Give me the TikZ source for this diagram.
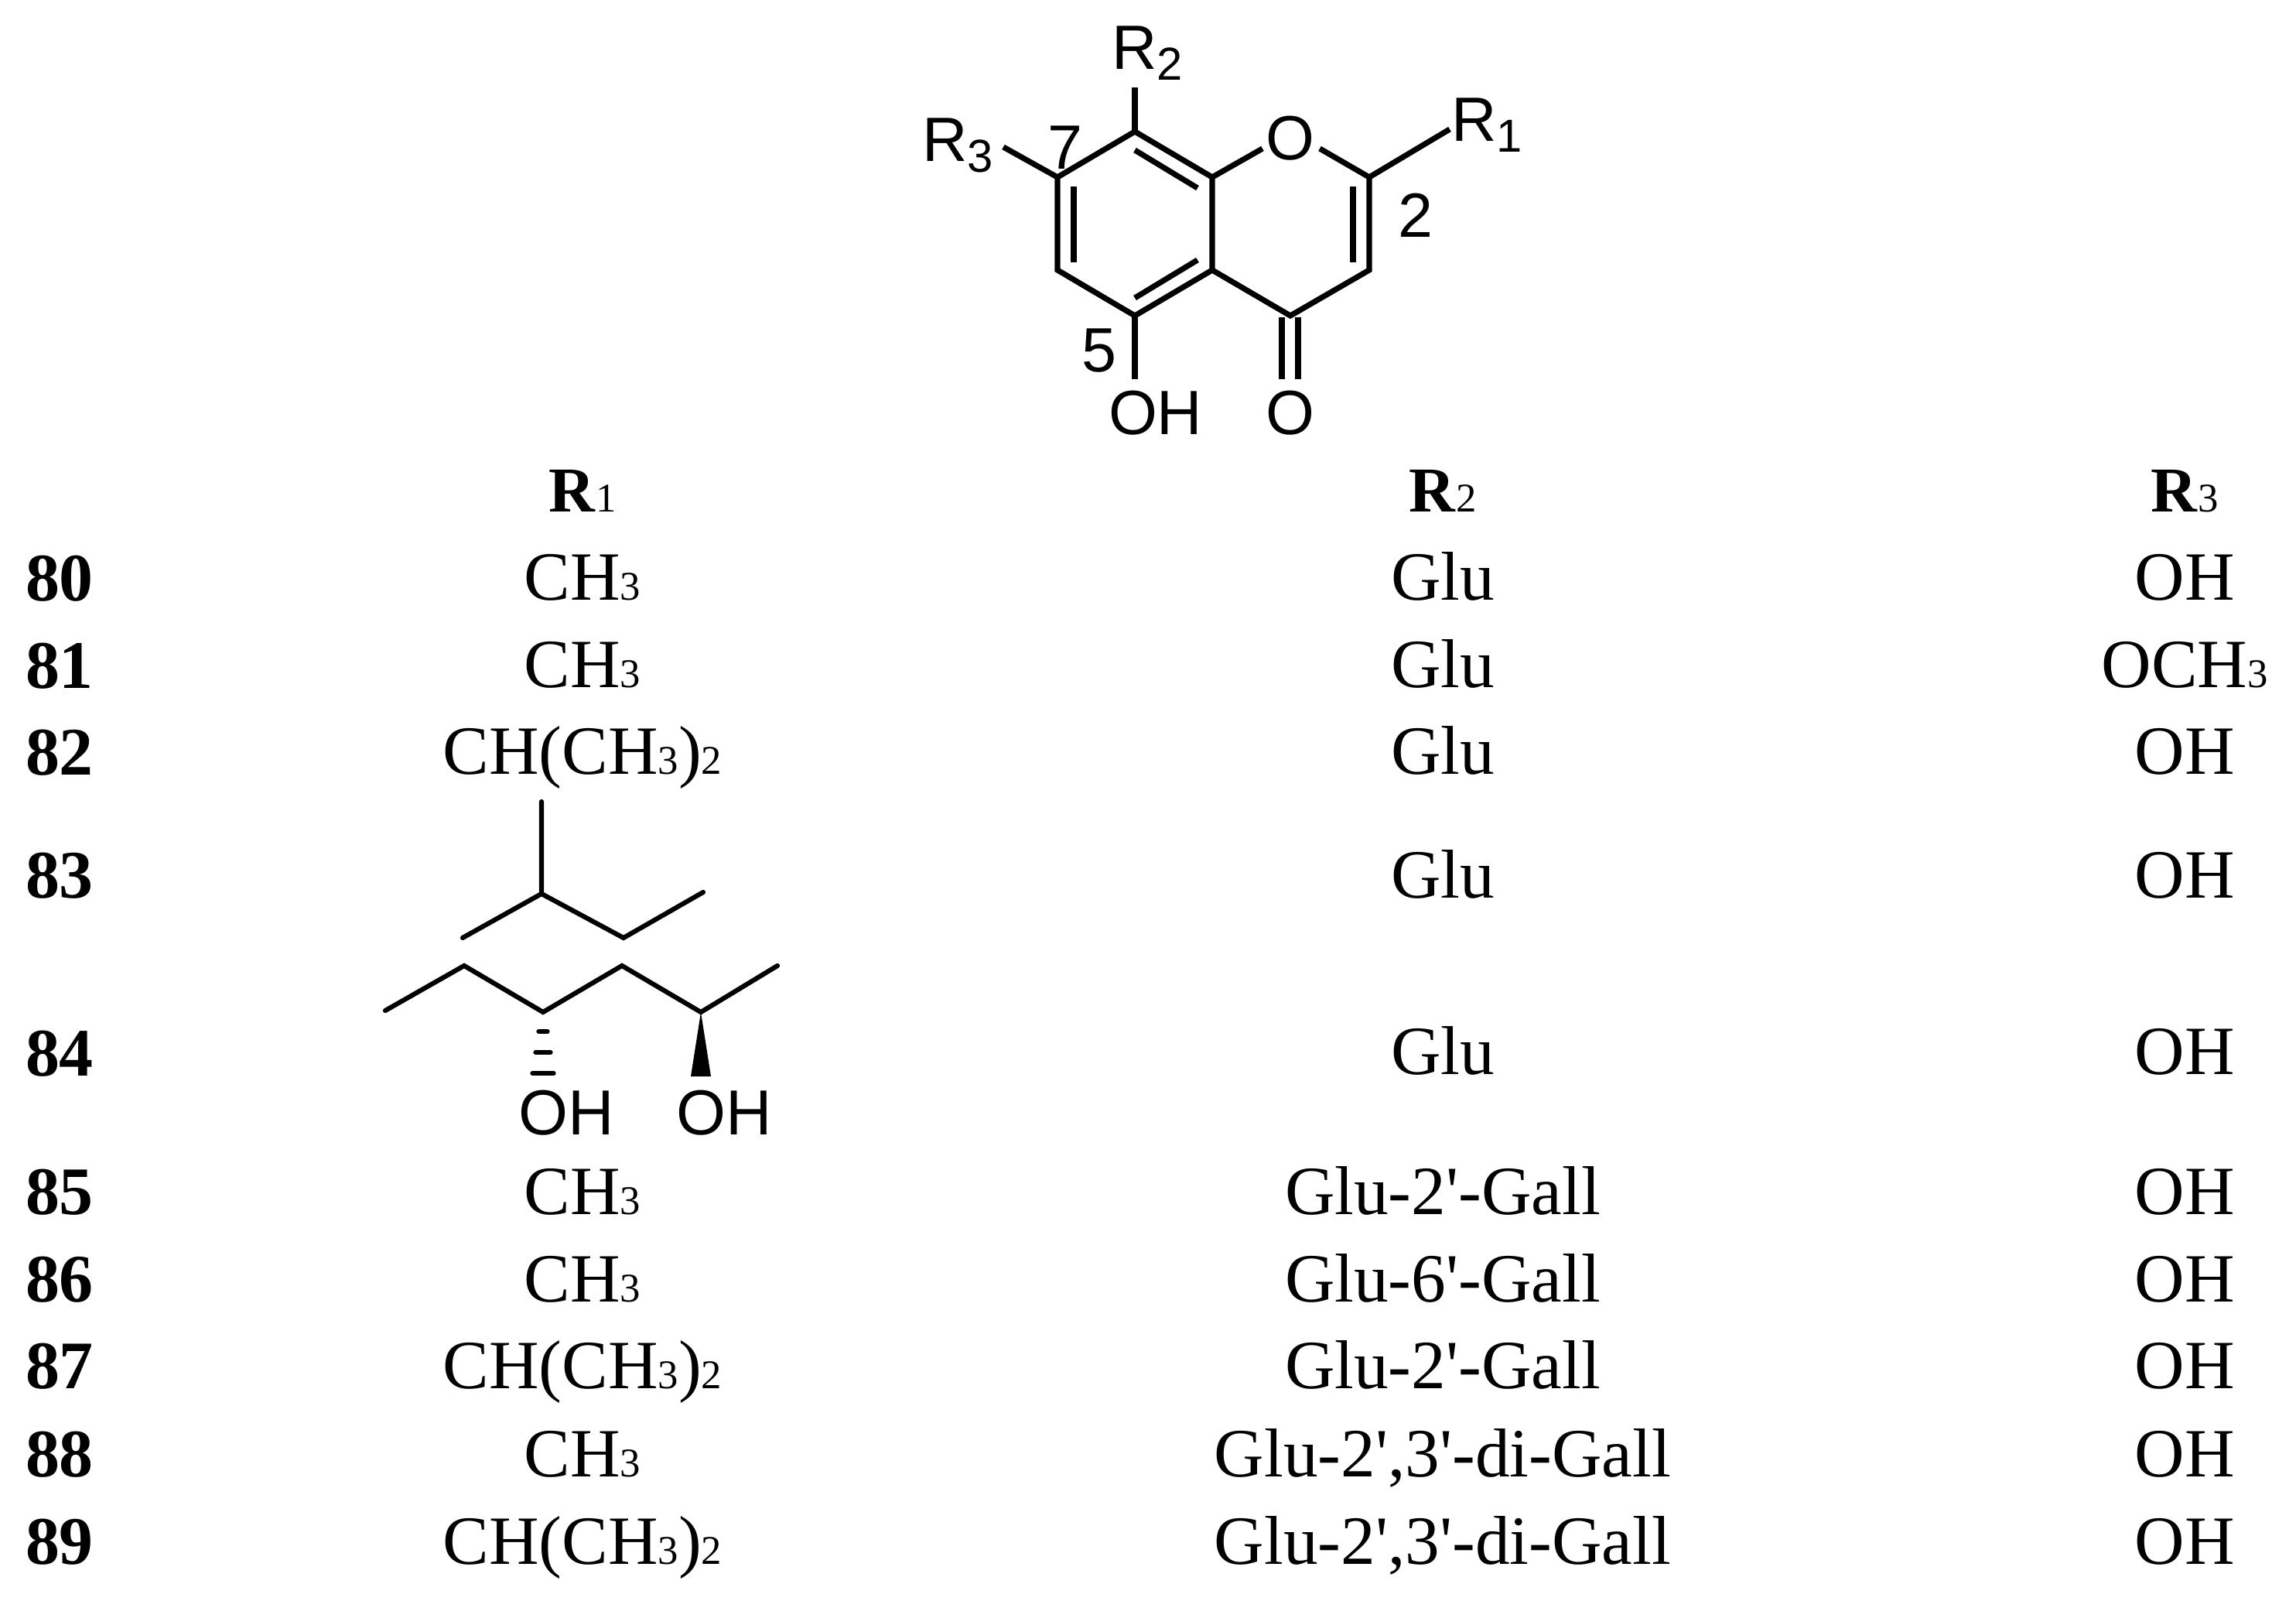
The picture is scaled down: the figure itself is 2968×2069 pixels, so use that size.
\documentclass[tikz,border=0pt]{standalone}
\usepackage{fontspec}
\setmainfont{Liberation Serif}
\newfontfamily\tabfont{Liberation Serif}
\newfontfamily\chemfont{Liberation Sans}
\newlength\pxu
\setlength\pxu{0.28453pt}
\newcommand\chemsub[1]{\raisebox{-14\pxu}{\fontsize{17pt}{18pt}\selectfont #1}}
\newcommand\tsub[1]{{\fontsize{15pt}{16pt}\selectfont\mdseries #1}}
\tikzset{
  bond/.style={line width=2.05pt,line cap=butt,line join=miter,black},
  thinbond/.style={line width=1.75pt,line cap=round,line join=miter,black},
  chem/.style={inner sep=0pt,outer sep=0pt,anchor=base west,font=\chemfont\fontsize{23pt}{25pt}\selectfont},
  chemsm/.style={inner sep=0pt,outer sep=0pt,anchor=base west,font=\chemfont\fontsize{23.4pt}{25pt}\selectfont},
  cell/.style={inner sep=0pt,outer sep=0pt,anchor=base,font=\tabfont\fontsize{25.4pt}{28pt}\selectfont},
  numcell/.style={inner sep=0pt,outer sep=0pt,anchor=base west,font=\tabfont\bfseries\fontsize{25pt}{28pt}\selectfont},
  hdrcell/.style={inner sep=0pt,outer sep=0pt,anchor=base,font=\tabfont\fontsize{23.5pt}{28pt}\selectfont},
  hash/.style={line width=1.5pt,line cap=round,black}
}
\begin{document}
\begin{tikzpicture}[x=0.01cm,y=-0.01cm]
\useasboundingbox (0,0) rectangle (2968,2069);
% core atoms
\coordinate (c8) at (1467,170);
\coordinate (c7) at (1367,229);
\coordinate (c6) at (1367,349);
\coordinate (c5) at (1467,408);
\coordinate (c4a) at (1567,349);
\coordinate (c8a) at (1567,229);
\coordinate (c2) at (1770,229);
\coordinate (c3) at (1770,349);
\coordinate (c4) at (1668,408);
\coordinate (oa) at (1632,192);
\coordinate (ob) at (1706,192);
\coordinate (r1e) at (1874,167);
\coordinate (r2e) at (1467,113);
\coordinate (r3e) at (1297,190);
\coordinate (ohe) at (1467,490);
\coordinate (co1s) at (1657,410);
\coordinate (co1e) at (1657,490);
\coordinate (co2s) at (1678,410);
\coordinate (co2e) at (1678,490);
\coordinate (i1a) at (1388,241);
\coordinate (i1b) at (1388,339);
\coordinate (i2a) at (1467,194);
\coordinate (i2b) at (1548,243);
\coordinate (i3a) at (1467,385);
\coordinate (i3b) at (1548,336);
\coordinate (i4a) at (1749,241);
\coordinate (i4b) at (1749,339);
\draw[bond] (c8) -- (c7) -- (c6) -- (c5) -- (c4a) -- (c8a) -- cycle;
\draw[bond] (c4a) -- (c4) -- (c3) -- (c2) -- (ob);
\draw[bond] (c8a) -- (oa);
\draw[bond] (c2) -- (r1e);
\draw[bond] (c8) -- (r2e);
\draw[bond] (c7) -- (r3e);
\draw[bond] (c5) -- (ohe);
\draw[bond] (co1s) -- (co1e);
\draw[bond] (co2s) -- (co2e);
\draw[bond] (i1a) -- (i1b);
\draw[bond] (i2a) -- (i2b);
\draw[bond] (i3a) -- (i3b);
\draw[bond] (i4a) -- (i4b);
% core labels
\node[chem] (lr2) at (1437,89) {R\chemsub{2}};
\node[chem] (lr1) at (1876,182) {R\chemsub{1}};
\node[chem] (lr3) at (1192,208) {R\chemsub{3}};
\node[chem] (l7) at (1354,218) {7};
\node[chem] (l2) at (1807,306) {2};
\node[chem] (l5) at (1398,480) {5};
\node[chem] (lringo) at (1636,206) {O};
\node[chem] (loh) at (1433,561) {OH};
\node[chem] (lco) at (1636,561) {O};
% table header
\node[hdrcell] (h1) at (753,661) {\textbf{R}\tsub{1}};
\node[hdrcell] (h2) at (1865,661) {\textbf{R}\tsub{2}};
\node[hdrcell] (h3) at (2824,661) {\textbf{R}\tsub{3}};
% row numbers
\node[numcell] (n80) at (33,776) {80};
\node[numcell] (n81) at (33,889) {81};
\node[numcell] (n82) at (33,1001) {82};
\node[numcell] (n83) at (33,1160) {83};
\node[numcell] (n84) at (33,1390) {84};
\node[numcell] (n85) at (33,1569) {85};
\node[numcell] (n86) at (33,1682) {86};
\node[numcell] (n87) at (33,1794) {87};
\node[numcell] (n88) at (33,1908) {88};
\node[numcell] (n89) at (33,2021) {89};
% R1
\node[cell] (a80) at (753,775) {CH\tsub{3}};
\node[cell] (a81) at (753,888) {CH\tsub{3}};
\node[cell] (a82) at (753,1000) {CH(CH\tsub{3})\tsub{2}};
\node[cell] (a85) at (753,1569) {CH\tsub{3}};
\node[cell] (a86) at (753,1682) {CH\tsub{3}};
\node[cell] (a87) at (753,1794) {CH(CH\tsub{3})\tsub{2}};
\node[cell] (a88) at (753,1908) {CH\tsub{3}};
\node[cell] (a89) at (753,2021) {CH(CH\tsub{3})\tsub{2}};
% R2
\node[cell] (b80) at (1865,775) {Glu};
\node[cell] (b81) at (1865,888) {Glu};
\node[cell] (b82) at (1865,1000) {Glu};
\node[cell] (b83) at (1865,1160) {Glu};
\node[cell] (b84) at (1865,1388) {Glu};
\node[cell] (b85) at (1865,1569) {Glu-2'-Gall};
\node[cell] (b86) at (1865,1682) {Glu-6'-Gall};
\node[cell] (b87) at (1865,1794) {Glu-2'-Gall};
\node[cell] (b88) at (1865,1908) {Glu-2',3'-di-Gall};
\node[cell] (b89) at (1865,2021) {Glu-2',3'-di-Gall};
% R3
\node[cell] (c80) at (2824,775) {OH};
\node[cell] (c81) at (2824,888) {OCH\tsub{3}};
\node[cell] (c82) at (2824,1000) {OH};
\node[cell] (c83) at (2824,1160) {OH};
\node[cell] (c84) at (2824,1388) {OH};
\node[cell] (c85) at (2824,1569) {OH};
\node[cell] (c86) at (2824,1682) {OH};
\node[cell] (c87) at (2824,1794) {OH};
\node[cell] (c88) at (2824,1908) {OH};
\node[cell] (c89) at (2824,2021) {OH};
% side chain 83
\coordinate (s1) at (700,1036);
\coordinate (s2) at (700,1155);
\coordinate (s3) at (598,1212);
\coordinate (s4) at (806,1212);
\coordinate (s5) at (909,1153);
\draw[thinbond] (s1) -- (s2) -- (s3);
\draw[thinbond] (s2) -- (s4) -- (s5);
% side chain 84
\coordinate (t1) at (498,1306);
\coordinate (t2) at (600,1248);
\coordinate (t3) at (702,1308);
\coordinate (t4) at (804,1248);
\coordinate (t5) at (906,1308);
\coordinate (t6) at (1005,1248);
\draw[thinbond] (t1) -- (t2) -- (t3) -- (t4) -- (t5) -- (t6);
\coordinate (h1l) at (696,1333); \coordinate (h1r) at (708,1333);
\coordinate (h2l) at (692,1360); \coordinate (h2r) at (712,1360);
\coordinate (h3l) at (688,1387); \coordinate (h3r) at (716,1387);
\draw[hash] (h1l) -- (h1r);
\draw[hash] (h2l) -- (h2r);
\draw[hash] (h3l) -- (h3r);
\coordinate (w1) at (893,1391);
\coordinate (w2) at (919,1391);
\fill[black] (t5) -- (w1) -- (w2) -- cycle;
\node[chemsm] (oh1) at (670,1466) {OH};
\node[chemsm] (oh2) at (874,1466) {OH};
\end{tikzpicture}
\end{document}
